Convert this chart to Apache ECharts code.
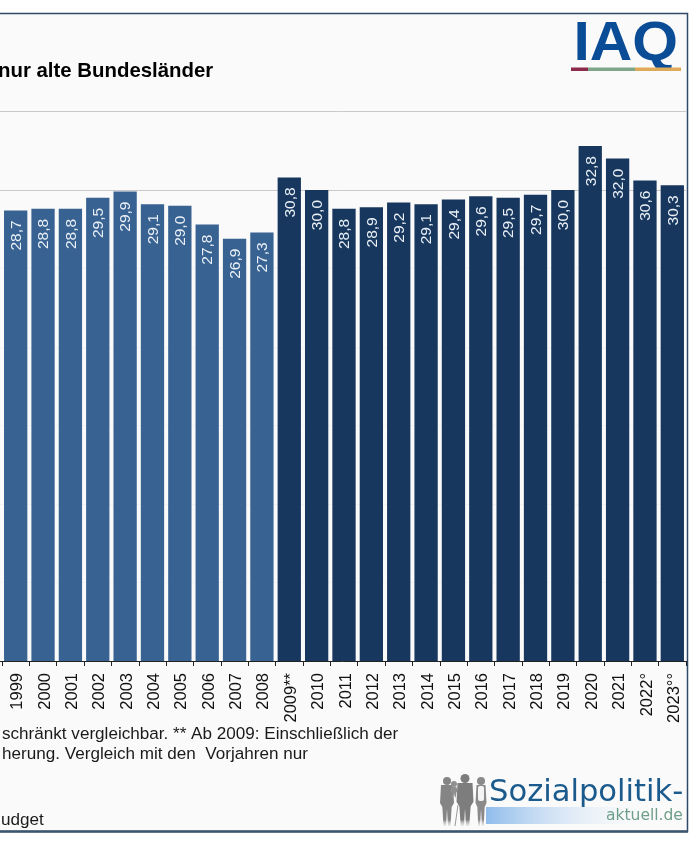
<!DOCTYPE html>
<html>
<head>
<meta charset="utf-8">
<title>IAQ</title>
<style>
html, body { margin: 0; padding: 0; background: #fff; }
#chart { width: 698px; height: 844px; }
</style>
<script src="https://cdn.jsdelivr.net/npm/echarts@6/dist/echarts.min.js"></script>
</head>
<body>
<div id="chart"></div>
<script>
// Werte (1998 nur als Anschnitt sichtbar, geschaetzt)
var years = ['1998', '1999', '2000', '2001', '2002', '2003', '2004', '2005', '2006', '2007', '2008', '2009**',
    '2010', '2011', '2012', '2013', '2014', '2015', '2016', '2017', '2018', '2019', '2020', '2021', '2022°', '2023°°'];
var values = [28.3, 28.7, 28.8, 28.8, 29.5, 29.9, 29.1, 29.0, 27.8, 26.9, 27.3, 30.8,
    30.0, 28.8, 28.9, 29.2, 29.1, 29.4, 29.6, 29.5, 29.7, 30.0, 32.8, 32.0, 30.6, 30.3];
var yTicks = [0, 5, 10, 15, 20, 25, 30, 35];
var firstDarkYear = '2009**';
var lastYear = '2023°°';

var LIGHT = '#386292';
var DARK = '#17375e';
var FONT = '"Liberation Sans", Arial, sans-serif';

var darkFrom = years.indexOf(firstDarkYear);

var barData = values.map(function (v, i) {
    var item = { value: v, itemStyle: { color: i < darkFrom ? LIGHT : DARK } };
    if (years[i] == lastYear) { // letzter Balken ist etwas breiter
        item.itemStyle.borderColor = DARK;
        item.itemStyle.borderWidth = 3;
    }
    return item;
});

function footText(x, y, str) {
    return {
        type: 'text', x: x, y: y,
        style: { text: str, font: '17.1px ' + FONT, fill: '#1a1a1a', textVerticalAlign: 'middle' }
    };
}

var graphics = [
    // Rahmen
    { type: 'rect', z: -10, shape: { x: -6, y: 13.5, width: 693.5, height: 818 },
        style: { fill: '#fafafa', stroke: '#2f4a68', lineWidth: 1.5 } },
    { type: 'line', z: 5, shape: { x1: -6, y1: 831.5, x2: 688, y2: 831.5 },
        style: { stroke: '#3d566f', lineWidth: 2.5 } },

    // Titel und Fussnoten
    { type: 'text', x: -2, y: 71, style: { text: 'nur alte Bundesländer', font: 'bold 20.4px ' + FONT, fill: '#000', textVerticalAlign: 'middle' } },
    footText(2, 734, 'schränkt vergleichbar. ** Ab 2009: Einschließlich der'),
    footText(2, 754, 'herung. Vergleich mit den  Vorjahren nur'),
    footText(1, 820, 'udget'),

    // IAQ-Logo
    { type: 'text', x: 573.5, y: 45, scaleX: 1.05, style: { text: 'IAQ', font: 'bold 56px ' + FONT, fill: '#0b4c96', textVerticalAlign: 'middle' } },
    { type: 'rect', shape: { x: 571, y: 67.5, width: 17, height: 3.5 }, style: { fill: '#8c2a4a' } },
    { type: 'rect', shape: { x: 588, y: 67.5, width: 47, height: 3.5 }, style: { fill: '#7fa58a' } },
    { type: 'rect', shape: { x: 635, y: 67.5, width: 46, height: 3.5 }, style: { fill: '#dfa95a' } },

    // Sozialpolitik-Logo
    { type: 'rect', shape: { x: 486, y: 807, width: 170, height: 17 },
        style: { fill: new echarts.graphic.LinearGradient(0, 0, 1, 0, [
            { offset: 0, color: '#8fbcec' }, { offset: 1, color: 'rgba(250,250,250,0)' }
        ]) } },
    { type: 'text', x: 489, y: 793, style: { text: 'Sozialpolitik-', font: '30.6px "DejaVu Sans", sans-serif', fill: '#1b5a8c', textVerticalAlign: 'middle' } },
    { type: 'text', x: 606, y: 816, style: { text: 'aktuell.de', font: '15.5px "DejaVu Sans", sans-serif', fill: '#6f9f8a', textVerticalAlign: 'middle' } }
];

// Silhouetten im Logo
var people = [
    { cx: 447, top: 784, w: 14, h: 42, r: 4, fill: '#858585' },
    { cx: 454, top: 786, w: 7, h: 12, r: 3, fill: '#8f8f8f' },
    { cx: 465, top: 782, w: 17, h: 44, r: 4.5, fill: '#7d7d7d' },
    { cx: 481, top: 784, w: 11, h: 42, r: 4, fill: '#8a8a8a' }
];
people.forEach(function (p) {
    var fade = new echarts.graphic.LinearGradient(0, 0, 0, 1, [
        { offset: 0, color: p.fill }, { offset: 0.85, color: p.fill }, { offset: 1, color: 'rgba(200,200,200,0.3)' }
    ]);
    graphics.push({ type: 'circle', shape: { cx: p.cx, cy: p.top - p.r + 1, r: p.r }, style: { fill: p.fill } });
    graphics.push({ type: 'polygon', shape: { points: [
        [p.cx - p.w / 2 + 1, p.top + 1], [p.cx + p.w / 2 - 1, p.top + 1],
        [p.cx + p.w / 2, p.top + p.h * 0.45], [p.cx + p.w / 3, p.top + p.h * 0.55], [p.cx + p.w / 4, p.top + p.h],
        [p.cx + 1, p.top + p.h], [p.cx, p.top + p.h * 0.6], [p.cx - 1, p.top + p.h],
        [p.cx - p.w / 4, p.top + p.h], [p.cx - p.w / 3, p.top + p.h * 0.55], [p.cx - p.w / 2, p.top + p.h * 0.45]
    ] }, style: { fill: fade } });
});
// heller Oberkoerper rechts und Stock
graphics.push({ type: 'rect', shape: { x: 478, y: 786, width: 6, height: 15, r: 2 }, style: { fill: '#f4f4f4' } });
graphics.push({ type: 'line', shape: { x1: 458, y1: 805, x2: 455, y2: 826 }, style: { stroke: '#9a9a9a', lineWidth: 1 } });

var chart = echarts.init(document.getElementById('chart'), null, { renderer: 'canvas' });
chart.setOption({
    backgroundColor: '#fff',
    animation: false,
    graphic: graphics,
    grid: { left: -25.36, right: 12, top: 111.5, bottom: 183, outerBoundsMode: 'none' },
    xAxis: {
        type: 'category',
        data: years,
        axisLine: { lineStyle: { color: '#222', width: 1 } },
        axisTick: { show: true, length: 5, lineStyle: { color: '#222' } },
        axisLabel: {
            interval: 0, rotate: 90, margin: 12,
            verticalAlign: 'top', lineHeight: 4,
            fontFamily: 'Liberation Sans', fontSize: 16.5, color: '#111'
        }
    },
    yAxis: {
        type: 'value',
        min: yTicks[0],
        max: yTicks[yTicks.length - 1],
        interval: 5,
        axisLabel: { show: false },
        axisLine: { show: false },
        axisTick: { show: false },
        splitLine: { lineStyle: { color: yTicks.map(function (t) { return t >= 30 ? '#c9c9c9' : '#f2f3f5'; }), width: 1 } }
    },
    series: [{
        type: 'bar',
        data: barData,
        barWidth: 23.3,
        label: {
            show: true,
            rotate: 90,
            position: 'insideTop',
            distance: 10,
            align: 'right',
            verticalAlign: 'top',
            lineHeight: 2,
            fontFamily: 'Liberation Sans',
            fontSize: 15.5,
            color: '#eaf0f6',
            formatter: function (p) { return p.value.toFixed(1).replace('.', ','); }
        }
    }]
});
</script>
</body>
</html>
